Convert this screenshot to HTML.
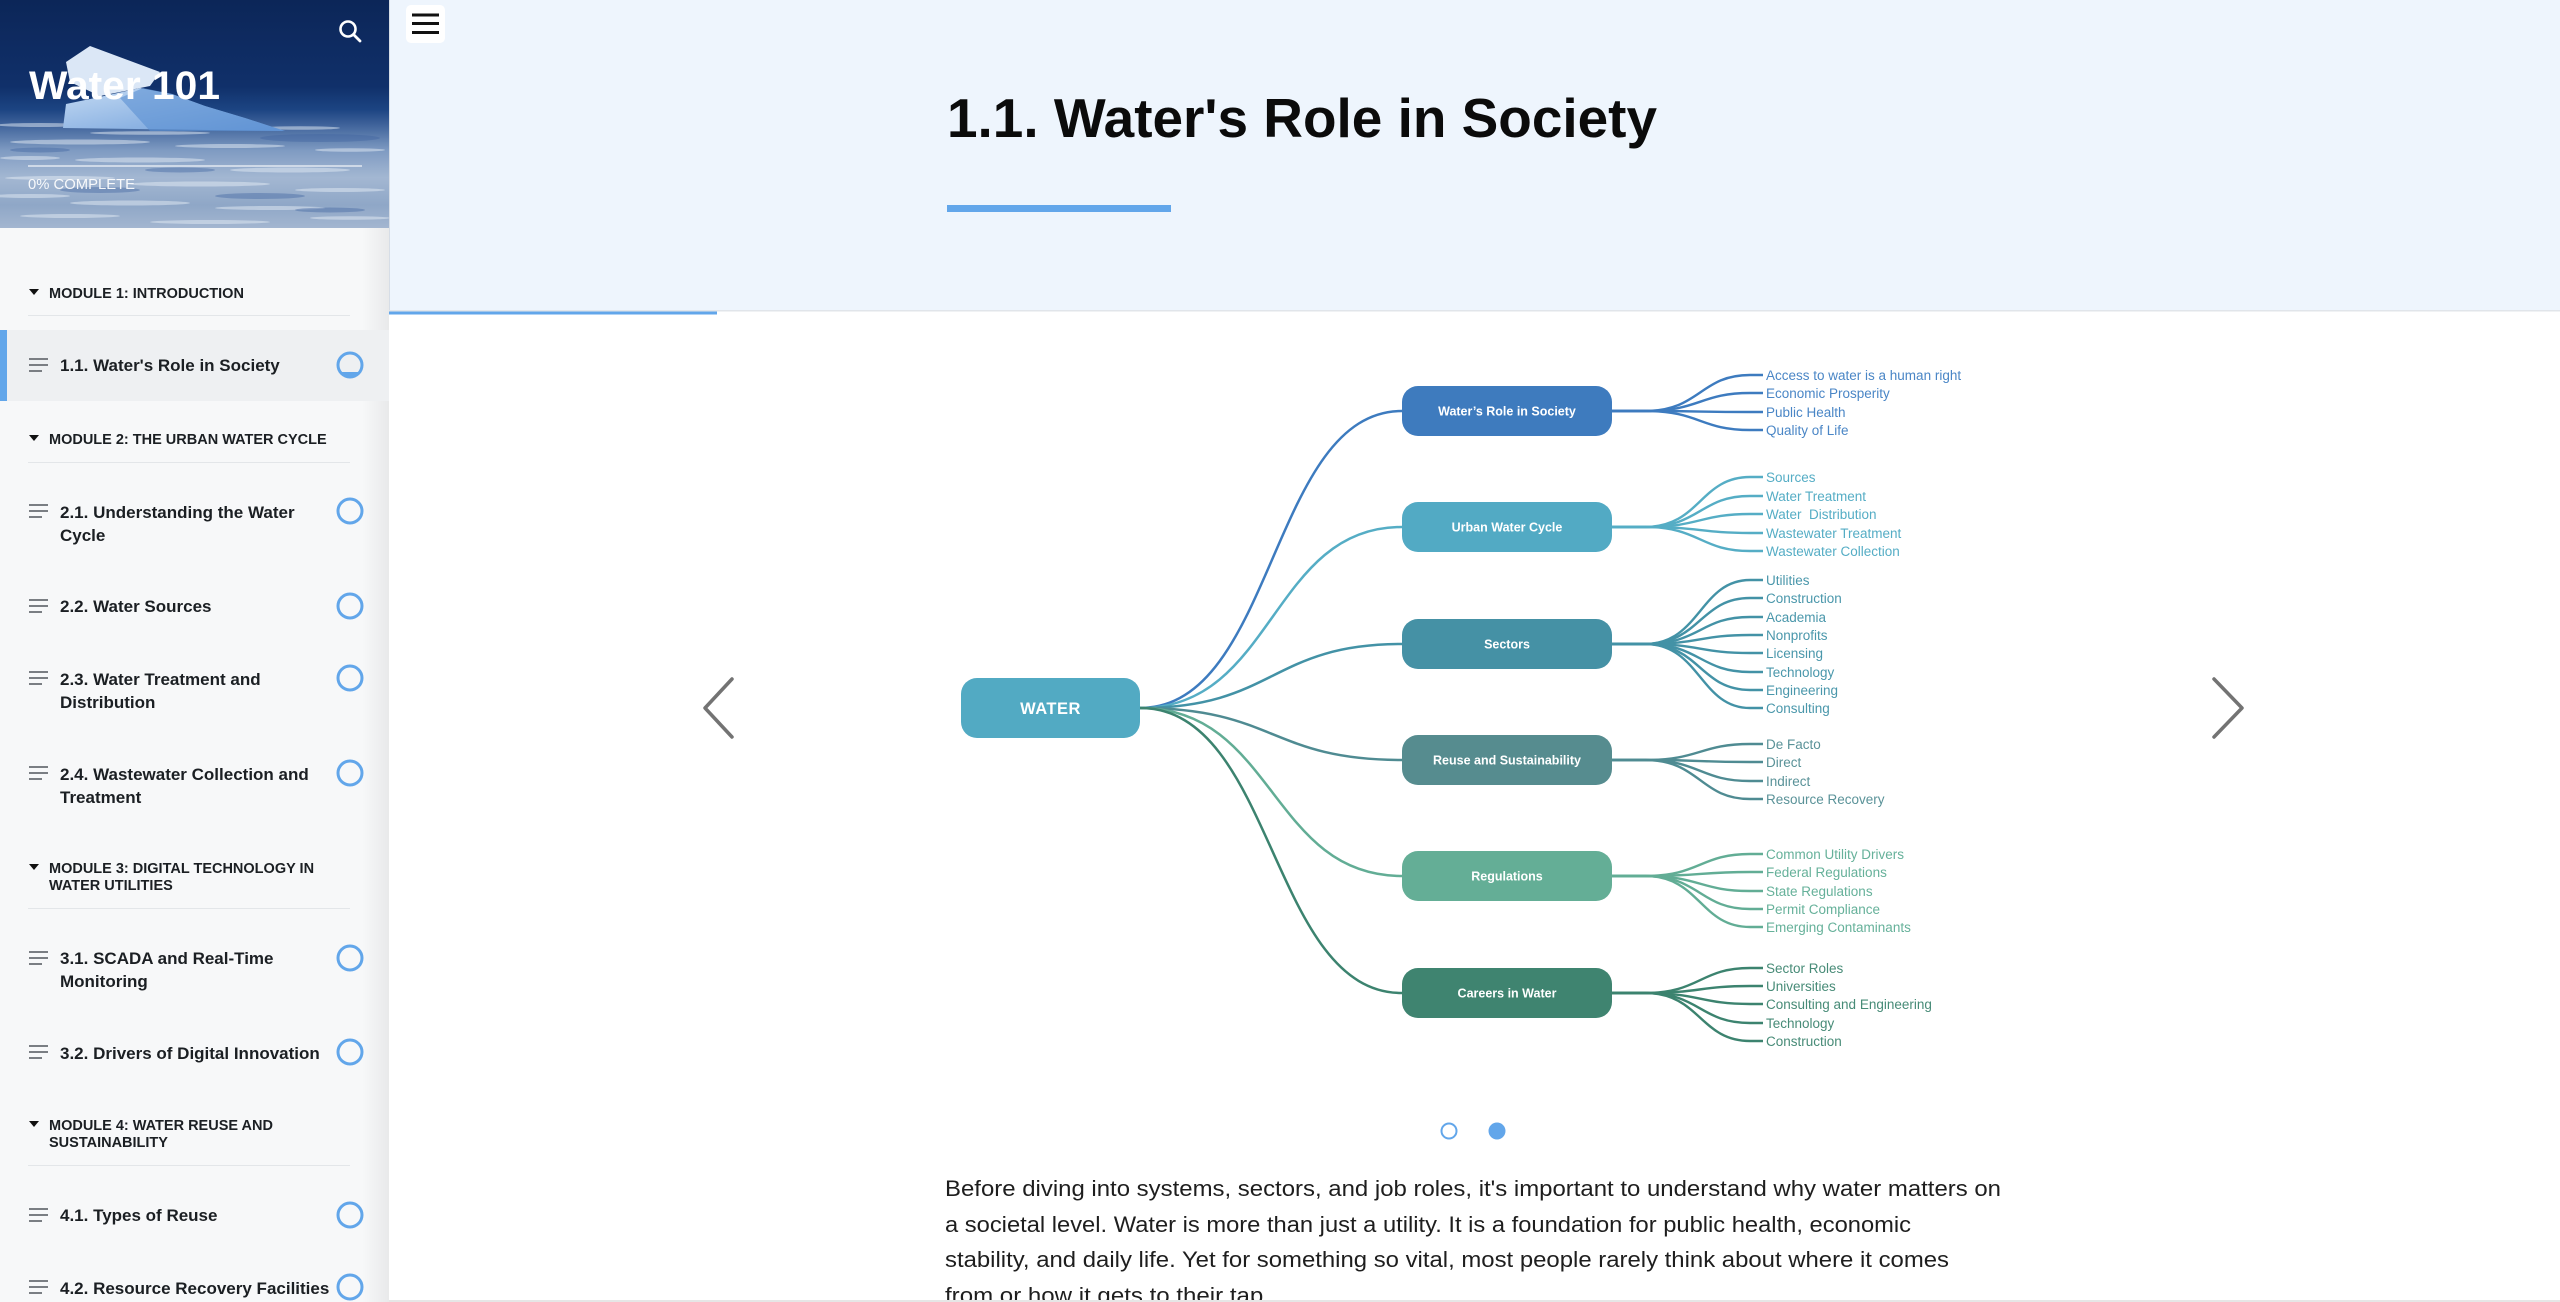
<!DOCTYPE html>
<html>
<head>
<meta charset="utf-8">
<style>
  html,body{margin:0;padding:0;background:#fff;}
  body{width:2560px;height:1302px;overflow:hidden;position:relative;}
  svg{display:block;}
</style>
</head>
<body>
<svg width="2560" height="1302" viewBox="0 0 2560 1302" xmlns="http://www.w3.org/2000/svg" font-family="'Liberation Sans', Arial, sans-serif">
  <defs>
    <linearGradient id="hdr" x1="0" y1="0" x2="0" y2="1">
      <stop offset="0" stop-color="#0c2658"/>
      <stop offset="0.38" stop-color="#10306a"/>
      <stop offset="0.48" stop-color="#1c4482"/>
      <stop offset="0.56" stop-color="#46699f"/>
      <stop offset="0.66" stop-color="#7f9bc2"/>
      <stop offset="0.78" stop-color="#a3b7d2"/>
      <stop offset="0.9" stop-color="#8fa7c7"/>
      <stop offset="1" stop-color="#a3b6d0"/>
    </linearGradient>
    <linearGradient id="ice" x1="0" y1="0" x2="1" y2="1">
      <stop offset="0" stop-color="#c3daf3"/>
      <stop offset="1" stop-color="#6a9ad8"/>
    </linearGradient>
    <linearGradient id="shd" x1="0" y1="0" x2="1" y2="0">
      <stop offset="0" stop-color="#000" stop-opacity="0"/>
      <stop offset="1" stop-color="#000" stop-opacity="0.06"/>
    </linearGradient>
  </defs>

  <!-- ============ SIDEBAR ============ -->
  <rect x="0" y="0" width="389" height="1302" fill="#f7f8f9"/>
  <rect x="0" y="0" width="389" height="228" fill="url(#hdr)"/>
  <!-- water streaks -->
  <g fill="#e4ecf5" opacity="0.5">
    <ellipse cx="40" cy="125" rx="45" ry="2"/>
    <ellipse cx="150" cy="133" rx="60" ry="1.8"/>
    <ellipse cx="300" cy="128" rx="40" ry="1.8"/>
    <ellipse cx="80" cy="142" rx="70" ry="2.5"/>
    <ellipse cx="230" cy="146" rx="55" ry="2"/>
    <ellipse cx="350" cy="150" rx="35" ry="1.8"/>
    <ellipse cx="30" cy="158" rx="30" ry="2"/>
    <ellipse cx="140" cy="160" rx="65" ry="2.5"/>
    <ellipse cx="290" cy="170" rx="60" ry="2.5"/>
    <ellipse cx="60" cy="178" rx="55" ry="2"/>
    <ellipse cx="200" cy="184" rx="70" ry="2.5"/>
    <ellipse cx="340" cy="190" rx="45" ry="2"/>
    <ellipse cx="30" cy="196" rx="40" ry="2"/>
    <ellipse cx="130" cy="203" rx="60" ry="2.5"/>
    <ellipse cx="270" cy="208" rx="55" ry="2"/>
    <ellipse cx="70" cy="216" rx="50" ry="2"/>
    <ellipse cx="210" cy="222" rx="60" ry="2"/>
    <ellipse cx="350" cy="218" rx="40" ry="1.8"/>
  </g>
  <g fill="#3f63a0" opacity="0.4">
    <ellipse cx="320" cy="138" rx="60" ry="4"/>
    <ellipse cx="100" cy="190" rx="40" ry="3"/>
    <ellipse cx="260" cy="196" rx="45" ry="3"/>
    <ellipse cx="180" cy="170" rx="35" ry="2.5"/>
    <ellipse cx="40" cy="150" rx="30" ry="2.5"/>
    <ellipse cx="330" cy="210" rx="35" ry="2.5"/>
  </g>
  <!-- iceberg -->
  <polygon points="63,128 66,104 95,98 140,88 172,94 205,106 245,118 285,131" fill="url(#ice)"/>
  <polygon points="66,62 90,46 160,72 150,86 100,96 70,82" fill="#dbe7f6"/>
  <polygon points="120,98 143,88 172,94 205,106 245,118 285,131 150,131" fill="#5a8fd2" opacity="0.6"/>

  <!-- search icon -->
  <circle cx="348" cy="29" r="7.5" fill="none" stroke="#fff" stroke-width="2.6"/>
  <line x1="353.5" y1="34.5" x2="360" y2="41" stroke="#fff" stroke-width="2.8" stroke-linecap="round"/>

  <text x="29" y="99" font-size="40" font-weight="bold" fill="#fff" textLength="191" lengthAdjust="spacingAndGlyphs">Water 101</text>
  <rect x="28" y="165" width="334" height="2" fill="#ffffff" opacity="0.55"/>
  <text x="28" y="189" font-size="14.5" fill="#ffffff" opacity="0.92" textLength="107" lengthAdjust="spacingAndGlyphs">0% COMPLETE</text>

  <!-- right shadow -->
  <rect x="362" y="228" width="27" height="1074" fill="url(#shd)"/>

  <!-- Module headings -->
  <g font-size="14.5" font-weight="bold" fill="#1b1f23">
    <polygon points="29,289 39,289 34,295" fill="#111"/>
    <text x="49" y="298">MODULE 1: INTRODUCTION</text>
    <polygon points="29,435 39,435 34,441" fill="#111"/>
    <text x="49" y="444">MODULE 2: THE URBAN WATER CYCLE</text>
    <polygon points="29,864 39,864 34,870" fill="#111"/>
    <text x="49" y="873">MODULE 3: DIGITAL TECHNOLOGY IN</text>
    <text x="49" y="890">WATER UTILITIES</text>
    <polygon points="29,1121 39,1121 34,1127" fill="#111"/>
    <text x="49" y="1130">MODULE 4: WATER REUSE AND</text>
    <text x="49" y="1147">SUSTAINABILITY</text>
  </g>
  <g fill="#e3e6e9">
    <rect x="28" y="315" width="322" height="1"/>
    <rect x="28" y="462" width="322" height="1"/>
    <rect x="28" y="908" width="322" height="1"/>
    <rect x="28" y="1165" width="322" height="1"/>
  </g>

  <!-- active item -->
  <rect x="0" y="330" width="389" height="71" fill="#eef0f2"/>
  <rect x="0" y="330" width="7" height="71" fill="#62a6ea"/>

  <!-- item icons -->
  <g fill="#7a7e83">
    <rect x="29" y="358" width="19" height="2"/><rect x="29" y="364" width="19" height="2"/><rect x="29" y="370" width="13" height="2"/>
    <rect x="29" y="504" width="19" height="2"/><rect x="29" y="510" width="19" height="2"/><rect x="29" y="516" width="13" height="2"/>
    <rect x="29" y="599" width="19" height="2"/><rect x="29" y="605" width="19" height="2"/><rect x="29" y="611" width="13" height="2"/>
    <rect x="29" y="671" width="19" height="2"/><rect x="29" y="677" width="19" height="2"/><rect x="29" y="683" width="13" height="2"/>
    <rect x="29" y="766" width="19" height="2"/><rect x="29" y="772" width="19" height="2"/><rect x="29" y="778" width="13" height="2"/>
    <rect x="29" y="951" width="19" height="2"/><rect x="29" y="957" width="19" height="2"/><rect x="29" y="963" width="13" height="2"/>
    <rect x="29" y="1045" width="19" height="2"/><rect x="29" y="1051" width="19" height="2"/><rect x="29" y="1057" width="13" height="2"/>
    <rect x="29" y="1208" width="19" height="2"/><rect x="29" y="1214" width="19" height="2"/><rect x="29" y="1220" width="13" height="2"/>
    <rect x="29" y="1280" width="19" height="2"/><rect x="29" y="1286" width="19" height="2"/><rect x="29" y="1292" width="13" height="2"/>
  </g>

  <!-- item texts -->
  <g font-size="17" font-weight="bold" fill="#1b1f23">
    <text x="60" y="371">1.1. Water's Role in Society</text>
    <text x="60" y="518">2.1. Understanding the Water</text>
    <text x="60" y="541">Cycle</text>
    <text x="60" y="612">2.2. Water Sources</text>
    <text x="60" y="685">2.3. Water Treatment and</text>
    <text x="60" y="708">Distribution</text>
    <text x="60" y="780">2.4. Wastewater Collection and</text>
    <text x="60" y="803">Treatment</text>
    <text x="60" y="964">3.1. SCADA and Real-Time</text>
    <text x="60" y="987">Monitoring</text>
    <text x="60" y="1059">3.2. Drivers of Digital Innovation</text>
    <text x="60" y="1221">4.1. Types of Reuse</text>
    <text x="60" y="1294">4.2. Resource Recovery Facilities</text>
  </g>

  <!-- circles -->
  <g fill="none" stroke="#62a6ea" stroke-width="3">
    <circle cx="350" cy="365" r="12"/>
    <circle cx="350" cy="511" r="12"/>
    <circle cx="350" cy="606" r="12"/>
    <circle cx="350" cy="678" r="12"/>
    <circle cx="350" cy="773" r="12"/>
    <circle cx="350" cy="958" r="12"/>
    <circle cx="350" cy="1052" r="12"/>
    <circle cx="350" cy="1215" r="12"/>
    <circle cx="350" cy="1287" r="12"/>
  </g>
  <path d="M340.25,372 A12,12 0 0 0 359.75,372 Z" fill="#62a6ea"/>

  <!-- ============ MAIN ============ -->
  <rect x="389" y="0" width="2171" height="310" fill="#eef5fd"/>
  <rect x="389" y="310" width="2171" height="1.5" fill="#e1e5ea"/>
  <rect x="389" y="311.5" width="328" height="3" fill="#62a6ea"/>
  <rect x="389" y="0" width="1" height="310" fill="#d6dde6"/>

  <!-- hamburger -->
  <rect x="406" y="5" width="39" height="38" rx="5" fill="#ffffff"/>
  <rect x="412" y="13.5" width="27" height="3" fill="#111"/>
  <rect x="412" y="22" width="27" height="3" fill="#111"/>
  <rect x="412" y="31" width="27" height="3" fill="#111"/>

  <!-- title -->
  <text x="947" y="137" font-size="55" font-weight="bold" fill="#0b0b0b" textLength="710" lengthAdjust="spacingAndGlyphs">1.1. Water's Role in Society</text>
  <rect x="947" y="205" width="224" height="7" fill="#62a6ea"/>

  <!-- carousel arrows -->
  <polyline points="732,679 705,708 732,737" fill="none" stroke="#737373" stroke-width="3.5" stroke-linecap="round" stroke-linejoin="round"/>
  <polyline points="2214,679 2242,708 2214,737" fill="none" stroke="#737373" stroke-width="3.5" stroke-linecap="round" stroke-linejoin="round"/>

  <!-- main connectors -->
  <g fill="none" stroke-width="2.5">
    <path d="M1140,708 C1275,708 1270,411 1402,411" stroke="#3d7bbf"/>
    <path d="M1140,708 C1275,708 1270,527 1402,527" stroke="#55adc5"/>
    <path d="M1140,708 C1275,708 1270,644 1402,644" stroke="#4392a6"/>
    <path d="M1140,708 C1275,708 1270,760 1402,760" stroke="#4f8b92"/>
    <path d="M1140,708 C1275,708 1270,876 1402,876" stroke="#62ad95"/>
    <path d="M1140,708 C1275,708 1270,993 1402,993" stroke="#3c836f"/>
  </g>

  <!-- WATER node -->
  <rect x="961" y="678" width="179" height="60" rx="16" fill="#52aac3"/>
  <text x="1050.5" y="714" font-size="16.5" font-weight="bold" fill="#fff" text-anchor="middle" letter-spacing="0.5">WATER</text>

  <!-- level-1 nodes -->
  <g>
    <rect x="1402" y="386" width="210" height="50" rx="16" fill="#3e7bbe"/>
    <rect x="1402" y="502" width="210" height="50" rx="16" fill="#52aac4"/>
    <rect x="1402" y="619" width="210" height="50" rx="16" fill="#4591a5"/>
    <rect x="1402" y="735" width="210" height="50" rx="16" fill="#568c8f"/>
    <rect x="1402" y="851" width="210" height="50" rx="16" fill="#64ae96"/>
    <rect x="1402" y="968" width="210" height="50" rx="16" fill="#3f8470"/>
  </g>
  <g font-size="12.5" font-weight="bold" fill="#ffffff" text-anchor="middle">
    <text x="1507" y="415.5">Water’s Role in Society</text>
    <text x="1507" y="531.5">Urban Water Cycle</text>
    <text x="1507" y="648.5">Sectors</text>
    <text x="1507" y="764.5">Reuse and Sustainability</text>
    <text x="1507" y="880.5">Regulations</text>
    <text x="1507" y="997.5">Careers in Water</text>
  </g>

  <!-- leaf connectors -->
  <g fill="none" stroke-width="2.4" stroke="#3d7bbf">
    <path d="M1612,411 L1645,411 C1700,411 1700,375 1750,375 L1763,375"/>
    <path d="M1612,411 L1645,411 C1700,411 1700,393 1750,393 L1763,393"/>
    <path d="M1612,411 L1645,411 C1700,411 1700,412 1750,412 L1763,412"/>
    <path d="M1612,411 L1645,411 C1700,411 1700,430 1750,430 L1763,430"/>
  </g>
  <g fill="none" stroke-width="2.4" stroke="#55adc5">
    <path d="M1612,527 L1645,527 C1700,527 1700,477 1750,477 L1763,477"/>
    <path d="M1612,527 L1645,527 C1700,527 1700,496 1750,496 L1763,496"/>
    <path d="M1612,527 L1645,527 C1700,527 1700,514 1750,514 L1763,514"/>
    <path d="M1612,527 L1645,527 C1700,527 1700,533 1750,533 L1763,533"/>
    <path d="M1612,527 L1645,527 C1700,527 1700,551 1750,551 L1763,551"/>
  </g>
  <g fill="none" stroke-width="2.4" stroke="#4392a6">
    <path d="M1612,644 L1645,644 C1700,644 1700,580 1750,580 L1763,580"/>
    <path d="M1612,644 L1645,644 C1700,644 1700,598 1750,598 L1763,598"/>
    <path d="M1612,644 L1645,644 C1700,644 1700,617 1750,617 L1763,617"/>
    <path d="M1612,644 L1645,644 C1700,644 1700,635 1750,635 L1763,635"/>
    <path d="M1612,644 L1645,644 C1700,644 1700,653 1750,653 L1763,653"/>
    <path d="M1612,644 L1645,644 C1700,644 1700,672 1750,672 L1763,672"/>
    <path d="M1612,644 L1645,644 C1700,644 1700,690 1750,690 L1763,690"/>
    <path d="M1612,644 L1645,644 C1700,644 1700,708 1750,708 L1763,708"/>
  </g>
  <g fill="none" stroke-width="2.4" stroke="#4f8b92">
    <path d="M1612,760 L1645,760 C1700,760 1700,744 1750,744 L1763,744"/>
    <path d="M1612,760 L1645,760 C1700,760 1700,762 1750,762 L1763,762"/>
    <path d="M1612,760 L1645,760 C1700,760 1700,781 1750,781 L1763,781"/>
    <path d="M1612,760 L1645,760 C1700,760 1700,799 1750,799 L1763,799"/>
  </g>
  <g fill="none" stroke-width="2.4" stroke="#62ad95">
    <path d="M1612,876 L1645,876 C1700,876 1700,854 1750,854 L1763,854"/>
    <path d="M1612,876 L1645,876 C1700,876 1700,872 1750,872 L1763,872"/>
    <path d="M1612,876 L1645,876 C1700,876 1700,891 1750,891 L1763,891"/>
    <path d="M1612,876 L1645,876 C1700,876 1700,909 1750,909 L1763,909"/>
    <path d="M1612,876 L1645,876 C1700,876 1700,927 1750,927 L1763,927"/>
  </g>
  <g fill="none" stroke-width="2.4" stroke="#3c836f">
    <path d="M1612,993 L1645,993 C1700,993 1700,968 1750,968 L1763,968"/>
    <path d="M1612,993 L1645,993 C1700,993 1700,986 1750,986 L1763,986"/>
    <path d="M1612,993 L1645,993 C1700,993 1700,1004 1750,1004 L1763,1004"/>
    <path d="M1612,993 L1645,993 C1700,993 1700,1023 1750,1023 L1763,1023"/>
    <path d="M1612,993 L1645,993 C1700,993 1700,1041 1750,1041 L1763,1041"/>
  </g>

  <!-- leaf labels -->
  <g font-size="13.5">
    <g fill="#4a86c6">
      <text x="1766" y="379.8">Access to water is a human right</text>
      <text x="1766" y="397.8">Economic Prosperity</text>
      <text x="1766" y="416.8">Public Health</text>
      <text x="1766" y="434.8">Quality of Life</text>
    </g>
    <g fill="#55adc5">
      <text x="1766" y="481.8">Sources</text>
      <text x="1766" y="500.8">Water Treatment</text>
      <text x="1766" y="518.8">Water&#160; Distribution</text>
      <text x="1766" y="537.8">Wastewater Treatment</text>
      <text x="1766" y="555.8">Wastewater Collection</text>
    </g>
    <g fill="#4a97ab">
      <text x="1766" y="584.8">Utilities</text>
      <text x="1766" y="602.8">Construction</text>
      <text x="1766" y="621.8">Academia</text>
      <text x="1766" y="639.8">Nonprofits</text>
      <text x="1766" y="657.8">Licensing</text>
      <text x="1766" y="676.8">Technology</text>
      <text x="1766" y="694.8">Engineering</text>
      <text x="1766" y="712.8">Consulting</text>
    </g>
    <g fill="#5a9298">
      <text x="1766" y="748.8">De Facto</text>
      <text x="1766" y="766.8">Direct</text>
      <text x="1766" y="785.8">Indirect</text>
      <text x="1766" y="803.8">Resource Recovery</text>
    </g>
    <g fill="#66b19a">
      <text x="1766" y="858.8">Common Utility Drivers</text>
      <text x="1766" y="876.8">Federal Regulations</text>
      <text x="1766" y="895.8">State Regulations</text>
      <text x="1766" y="913.8">Permit Compliance</text>
      <text x="1766" y="931.8">Emerging Contaminants</text>
    </g>
    <g fill="#478b77">
      <text x="1766" y="972.8">Sector Roles</text>
      <text x="1766" y="990.8">Universities</text>
      <text x="1766" y="1008.8">Consulting and Engineering</text>
      <text x="1766" y="1027.8">Technology</text>
      <text x="1766" y="1045.8">Construction</text>
    </g>
  </g>

  <!-- carousel dots -->
  <circle cx="1449" cy="1131" r="7.5" fill="none" stroke="#62a6ea" stroke-width="2"/>
  <circle cx="1497" cy="1131" r="8.5" fill="#62a6ea"/>

  <!-- paragraph -->
  <g font-size="22" fill="#1e1e1e">
    <text x="945" y="1196" textLength="1056" lengthAdjust="spacingAndGlyphs">Before diving into systems, sectors, and job roles, it's important to understand why water matters on</text>
    <text x="945" y="1232" textLength="966" lengthAdjust="spacingAndGlyphs">a societal level. Water is more than just a utility. It is a foundation for public health, economic</text>
    <text x="945" y="1267" textLength="1004" lengthAdjust="spacingAndGlyphs">stability, and daily life. Yet for something so vital, most people rarely think about where it comes</text>
    <text x="945" y="1303" textLength="325" lengthAdjust="spacingAndGlyphs">from or how it gets to their tap.</text>
  </g>
  <rect x="389" y="1300" width="2171" height="2" fill="#e6e6e6"/>
</svg>
</body>
</html>
